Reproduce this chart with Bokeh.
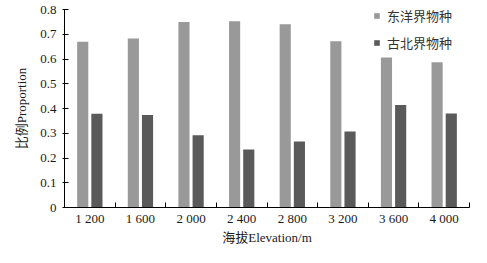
from bokeh.plotting import figure
from bokeh.models import Range1d, FixedTicker, Legend, LegendItem, ColumnDataSource
from bokeh.embed import file_html
from bokeh.resources import INLINE

categories = ["1 200", "1 600", "2 000", "2 400", "2 800", "3 200", "3 600", "4 000"]
oriental = [0.670, 0.683, 0.749, 0.753, 0.740, 0.672, 0.606, 0.587]
palearctic = [0.379, 0.374, 0.292, 0.234, 0.267, 0.307, 0.414, 0.380]
y_ticks = [0, 0.1, 0.2, 0.3, 0.4, 0.5, 0.6, 0.7, 0.8]
series_names = ["东洋界物种", "古北界物种"]

SERIF = "Liberation Serif, Noto Sans CJK SC"
LIGHT = "#999999"
DARK = "#5a5a5a"

n = len(categories)
centers = [i + 0.5 for i in range(n)]
src = ColumnDataSource(dict(
    x1=[c - 0.14 for c in centers],
    x2=[c + 0.14 for c in centers],
    a=oriental,
    b=palearctic,
))

p = figure(width=471, height=247, output_backend="svg", toolbar_location=None,
           x_range=Range1d(0, n), y_range=Range1d(0, 0.8),
           min_border_left=64, min_border_right=2, min_border_top=9, min_border_bottom=34)
p.outline_line_color = None
p.xgrid.visible = False
p.ygrid.visible = False
p.background_fill_color = "white"
p.border_fill_color = "white"

r1 = p.vbar(x="x1", top="a", width=0.22, source=src, fill_color=LIGHT, line_color=None)
r2 = p.vbar(x="x2", top="b", width=0.22, source=src, fill_color=DARK, line_color=None)

xa = p.xaxis[0]
xa.ticker = FixedTicker(ticks=centers, minor_ticks=list(range(1, n + 1)))
xa.major_label_overrides = {c: lab for c, lab in zip(centers, categories)}
xa.major_tick_in = 0
xa.major_tick_out = 0
xa.minor_tick_in = 5
xa.minor_tick_out = 0
xa.minor_tick_line_color = "black"
xa.axis_line_color = "black"
xa.major_label_text_font = SERIF
xa.major_label_text_font_size = "13px"
xa.major_label_text_color = "#1a1a1a"
xa.major_label_standoff = 3
xa.axis_label = "海拔Elevation/m"
xa.axis_label_text_font = SERIF
xa.axis_label_text_font_size = "13px"
xa.axis_label_text_font_style = "normal"
xa.axis_label_text_color = "#1a1a1a"
xa.axis_label_standoff = 1

ya = p.yaxis[0]
ya.ticker = FixedTicker(ticks=y_ticks, minor_ticks=[])
ya.major_label_overrides = {t: ("0" if t == 0 else f"{t:.1f}") for t in y_ticks}
ya.major_tick_in = 4
ya.major_tick_out = 2
ya.minor_tick_line_color = None
ya.axis_line_color = "black"
ya.major_tick_line_color = "black"
ya.major_label_text_font = SERIF
ya.major_label_text_font_size = "13px"
ya.major_label_text_color = "#1a1a1a"
ya.major_label_standoff = 6
ya.axis_label = "比例Proportion"
ya.axis_label_text_font = SERIF
ya.axis_label_text_font_size = "13px"
ya.axis_label_text_font_style = "normal"
ya.axis_label_text_color = "#1a1a1a"
ya.axis_label_standoff = 8

legend = Legend(items=[LegendItem(label=series_names[0], renderers=[r1]),
                       LegendItem(label=series_names[1], renderers=[r2])],
                location=(309, 155), orientation="vertical",
                glyph_width=7, glyph_height=7, label_height=14, label_standoff=7,
                spacing=8, padding=0, margin=0,
                background_fill_alpha=0, border_line_color=None,
                label_text_font=SERIF, label_text_font_size="13px",
                label_text_color="#333333")
p.add_layout(legend, "center")

open("out.html", "w").write(file_html(p, INLINE))
